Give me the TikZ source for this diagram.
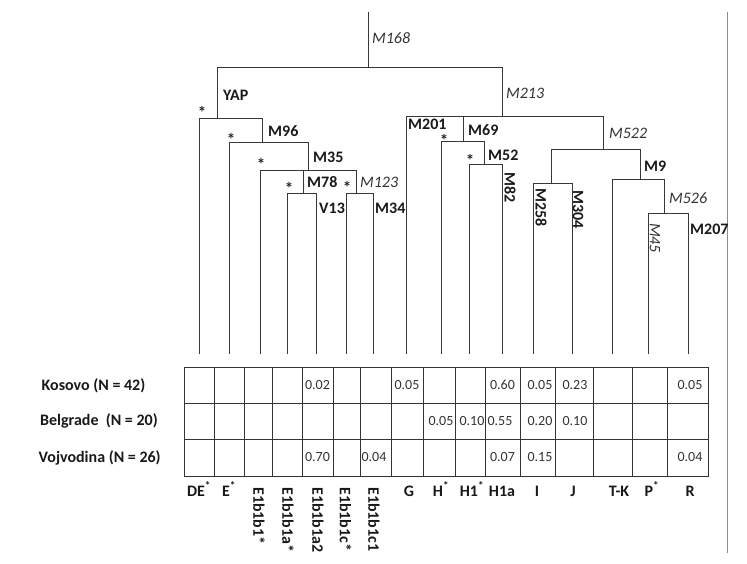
\documentclass[tikz,border=0pt]{standalone}
\usepackage{fontspec}
\setmainfont{Carlito}
\begin{document}
\begin{tikzpicture}[x=1pt,y=-1pt,
  br/.style={draw=black!78, line width=0.8pt},
  tb/.style={draw=black!80, line width=0.85pt},
  mk/.style={font=\fontsize{16}{19}\selectfont\bfseries, inner sep=0pt, anchor=west, text=black!90},
  mi/.style={font=\fontsize{16}{19}\selectfont\itshape, inner sep=0pt, anchor=west, text=black!80},
  mkr/.style={mk, rotate=-90},
  mir/.style={mi, rotate=-90},
  ast/.style={font=\fontsize{17}{19}\selectfont\bfseries, inner sep=0pt, anchor=base, text=black!85},
  val/.style={font=\fontsize{14}{16}\selectfont, inner sep=0pt, text=black!80},
  rowlab/.style={font=\fontsize{16}{19}\selectfont\bfseries, inner sep=0pt, anchor=base west, text=black!90},
  collab/.style={font=\fontsize{16}{19}\selectfont\bfseries, inner sep=0pt, anchor=base, text=black!90},
  rotlab/.style={font=\fontsize{16}{19}\selectfont\bfseries, inner sep=0pt, anchor=west, rotate=-90, text=black!90},
]
\useasboundingbox (0,0) rectangle (747,563);

% ---------- tree coordinates ----------
\coordinate (top) at (368,12);
\coordinate (root) at (368,67);
\coordinate (rootL) at (217,67);
\coordinate (rootR) at (502,67);
% YAP clade
\coordinate (yap) at (217,118);
\coordinate (yapL) at (199,118);
\coordinate (yapR) at (262,118);
\coordinate (m96) at (262,142);
\coordinate (m96L) at (229,142);
\coordinate (m96R) at (308,142);
\coordinate (m35) at (308,170);
\coordinate (m35L) at (260,170);
\coordinate (m78T) at (303,170);
\coordinate (m35R) at (356,170);
\coordinate (m78) at (303,193);
\coordinate (m78L) at (287,193);
\coordinate (m78R) at (316,193);
\coordinate (m123) at (356,193);
\coordinate (m123L) at (346,193);
\coordinate (m123R) at (373,193);
% M213 clade
\coordinate (m213) at (502,116);
\coordinate (m213L) at (406,116);
\coordinate (m69T) at (463,116);
\coordinate (m213R) at (603,116);
\coordinate (m69) at (463,141);
\coordinate (m69L) at (441,141);
\coordinate (m69R) at (484,141);
\coordinate (m52) at (484,164);
\coordinate (m52L) at (469,164);
\coordinate (m52R) at (502,164);
\coordinate (m522) at (603,149);
\coordinate (m522L) at (551,149);
\coordinate (m522R) at (640,149);
\coordinate (ij) at (551,183);
\coordinate (ijL) at (533,183);
\coordinate (ijR) at (572,183);
\coordinate (m9) at (640,179);
\coordinate (m9L) at (612,179);
\coordinate (m9R) at (664,179);
\coordinate (m526) at (664,213);
\coordinate (m526L) at (648,213);
\coordinate (m526R) at (688,213);
% leaves
\foreach \n/\x in {DE/199,E/229,Ea/260,Eb/287,Ec/316,Ed/346,Ee/373,G/406,H/441,Ha/469,Hb/502,I/533,J/572,TK/612,P/648,R/688}
  \coordinate (leaf\n) at (\x,354);

% ---------- tree branches ----------
\draw[br] (top) -- (root);
\draw[br] (rootL) -- (rootR);
\draw[br] (rootL) -- (yap);
\draw[br] (yapL) -- (yapR);
\draw[br] (yapL) -- (leafDE);
\draw[br] (yapR) -- (m96);
\draw[br] (m96L) -- (m96R);
\draw[br] (m96L) -- (leafE);
\draw[br] (m96R) -- (m35);
\draw[br] (m35L) -- (m35R);
\draw[br] (m35L) -- (leafEa);
\draw[br] (m78T) -- (m78);
\draw[br] (m78L) -- (m78R);
\draw[br] (m78L) -- (leafEb);
\draw[br] (m78R) -- (leafEc);
\draw[br] (m35R) -- (m123);
\draw[br] (m123L) -- (m123R);
\draw[br] (m123L) -- (leafEd);
\draw[br] (m123R) -- (leafEe);
\draw[br] (rootR) -- (m213);
\draw[br] (m213L) -- (m213R);
\draw[br] (m213L) -- (leafG);
\draw[br] (m69T) -- (m69);
\draw[br] (m69L) -- (m69R);
\draw[br] (m69L) -- (leafH);
\draw[br] (m69R) -- (m52);
\draw[br] (m52L) -- (m52R);
\draw[br] (m52L) -- (leafHa);
\draw[br] (m52R) -- (leafHb);
\draw[br] (m213R) -- (m522);
\draw[br] (m522L) -- (m522R);
\draw[br] (m522L) -- (ij);
\draw[br] (ijL) -- (ijR);
\draw[br] (ijL) -- (leafI);
\draw[br] (ijR) -- (leafJ);
\draw[br] (m522R) -- (m9);
\draw[br] (m9L) -- (m9R);
\draw[br] (m9L) -- (leafTK);
\draw[br] (m9R) -- (m526);
\draw[br] (m526L) -- (m526R);
\draw[br] (m526L) -- (leafP);
\draw[br] (m526R) -- (leafR);

% ---------- right border ----------
\coordinate (bdT) at (727,12);
\coordinate (bdB) at (727,553);
\draw[draw=black!45, line width=0.8pt] (bdT) -- (bdB);

% ---------- marker labels ----------
\node[mi] (lM168) at (372,38) {M168};
\node[mk] (lYAP) at (223,95) {YAP};
\node[mk] (lM96) at (268,131) {M96};
\node[mk] (lM35) at (313,157) {M35};
\node[mk] (lM78) at (307,182) {M78};
\node[mi] (lM123) at (360,182) {M123};
\node[mk] (lV13) at (319,208) {V13};
\node[mk] (lM34) at (375,208) {M34};
\node[mi] (lM213) at (506,93) {M213};
\node[mk] (lM201) at (408,124) {M201};
\node[mk] (lM69) at (468,130) {M69};
\node[mk] (lM52) at (488,155) {M52};
\node[mkr] (lM82) at (510,172) {M82};
\node[mi] (lM522) at (609,133) {M522};
\node[mkr] (lM258) at (541,188) {M258};
\node[mkr] (lM304) at (578,190) {M304};
\node[mk] (lM9) at (644,166) {M9};
\node[mi] (lM526) at (669,198) {M526};
\node[mir] (lM45) at (655,223) {M45};
\node[mk] (lM207) at (690,229) {M207};

% asterisks
\node[ast] (s1) at (202,118) {*};
\node[ast] (s2) at (231,145) {*};
\node[ast] (s3) at (261,170) {*};
\node[ast] (s4) at (289,194) {*};
\node[ast] (s5) at (347,193) {*};
\node[ast] (s6) at (444,146) {*};
\node[ast] (s7) at (470,166) {*};

% ---------- table ----------
\draw[tb] (184,367) rectangle (708,476);
\foreach \y in {403,439} \draw[tb] (184,\y) -- (708,\y);
\foreach \x in {214,244,272,302,333,360,391,423,455,485,520,555,593,632,667} \draw[tb] (\x,367) -- (\x,476);

% row labels
\node[rowlab] (rK) at (41.5,390) {Kosovo (N = 42)};
\node[rowlab] (rB) at (40,425) {Belgrade\ \ (N = 20)};
\node[rowlab] (rV) at (38.5,462) {Vojvodina (N = 26)};

% values
\node[val] (k1) at (317.5,385) {0.02};
\node[val] (k2) at (407,385) {0.05};
\node[val] (k3) at (502.5,385) {0.60};
\node[val] (k4) at (540,385) {0.05};
\node[val] (k5) at (575,385) {0.23};
\node[val] (k6) at (690,385) {0.05};
\node[val] (b1) at (441,421) {0.05};
\node[val] (b2) at (472,421) {0.10};
\node[val] (b3) at (500,421) {0.55};
\node[val] (b4) at (540,421) {0.20};
\node[val] (b5) at (575,421) {0.10};
\node[val] (v1) at (317.5,457) {0.70};
\node[val] (v2) at (374,457) {0.04};
\node[val] (v3) at (502.5,457) {0.07};
\node[val] (v4) at (540,457) {0.15};
\node[val] (v5) at (690,457) {0.04};

% column labels
\node[collab] (cDE) at (199,496) {DE\textsuperscript{*}};
\node[collab] (cE) at (229,496) {E\textsuperscript{*}};
\node[rotlab] (cEa) at (259,487) {E1b1b1*};
\node[rotlab] (cEb) at (288,487) {E1b1b1a*};
\node[rotlab] (cEc) at (318,487) {E1b1b1a2};
\node[rotlab] (cEd) at (345.5,487) {E1b1b1c*};
\node[rotlab] (cEe) at (374,487) {E1b1b1c1};
\node[collab] (cG) at (409,496) {G};
\node[collab] (cH) at (441,496) {H\textsuperscript{*}};
\node[collab] (cHa) at (472,496) {H1\textsuperscript{*}};
\node[collab] (cHb) at (502,496) {H1a};
\node[collab] (cI) at (537,496) {I};
\node[collab] (cJ) at (573,496) {J};
\node[collab] (cTK) at (619,496) {T-K};
\node[collab] (cP) at (652,496) {P\textsuperscript{*}};
\node[collab] (cR) at (690,496) {R};
\end{tikzpicture}
\end{document}
